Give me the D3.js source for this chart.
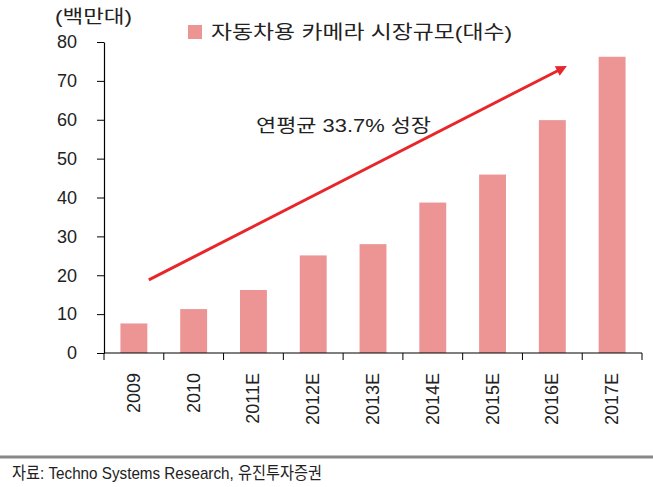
<!DOCTYPE html>
<html><head><meta charset="utf-8">
<script src="https://cdn.jsdelivr.net/npm/d3@7"></script>
<style>
body{margin:0;background:#fff;}
text{font-family:"Liberation Sans","Noto Sans CJK KR",sans-serif;fill:#222;}
</style></head>
<body><svg id="c" width="653" height="487"></svg>
<script>
const categories = ["2009","2010","2011E","2012E","2013E","2014E","2015E","2016E","2017E"];
const values = [7.6, 11.3, 16.2, 25.1, 28.0, 38.7, 45.9, 59.9, 76.2];
const yTicks = [0,10,20,30,40,50,60,70,80];
const seriesName = "자동차용 카메라 시장규모(대수)";
const unitLabel = "(백만대)";
const annotation = "연평균 33.7% 성장";
const source = "자료: Techno Systems Research, 유진투자증권";
const arrowFrom = {cat:"2009", value:18.8, shift:0.25};
const arrowTo = {cat:"2016E", value:72.8, shift:0.115};

const svg = d3.select("#c");
const barColor = "#EC9594";
const arrowColor = "#E8262A";
const x = d3.scaleBand().domain(categories).range([104,642]).paddingInner(0.55).paddingOuter(0.275);
const y = d3.scaleLinear().domain([0,80]).range([353,42]);
const step = x.step();
const cx = c => x(c) + x.bandwidth()/2;

// bars
svg.append("g").selectAll("rect").data(values).join("rect")
  .attr("x",(d,i)=>x(categories[i])).attr("width",x.bandwidth())
  .attr("y",d=>y(d)).attr("height",d=>y(0)-y(d)).attr("fill",barColor);

// y axis
const ya = svg.append("g").attr("transform","translate(104,0)")
  .call(d3.axisLeft(y).tickValues(yTicks).tickSize(7).tickPadding(20).tickSizeOuter(0));
ya.select(".domain").attr("stroke","#000").attr("stroke-width",1.2);
ya.selectAll(".tick line").attr("stroke","#000");
ya.selectAll("text").attr("font-size",18).attr("fill","#333").style("font-family","Liberation Sans");

// x axis
const xa = svg.append("g").attr("transform",`translate(0,${y(0)})`);
xa.append("line").attr("x1",x.range()[0]).attr("x2",x.range()[1]).attr("stroke","#000").attr("stroke-width",1.2);
const bounds = categories.map(c=>x(c)-step*x.paddingInner()/2).concat([x.range()[1]]);
xa.selectAll(".tk").data(bounds).join("line").attr("class","tk")
  .attr("x1",d=>d).attr("x2",d=>d).attr("y1",0).attr("y2",7).attr("stroke","#000");
xa.selectAll(".lb").data(categories).join("text").attr("class","lb")
  .attr("transform",d=>`translate(${cx(d)},20) rotate(-90)`)
  .attr("text-anchor","end").attr("dominant-baseline","central")
  .attr("font-size",18).attr("fill","#333").text(d=>d);

// unit label
svg.append("text").attr("x",55).attr("y",17).attr("dominant-baseline","central")
  .attr("font-size",18).attr("fill","#333")
  .attr("textLength",77).attr("lengthAdjust","spacingAndGlyphs").text(unitLabel);

// legend
svg.append("rect").attr("x",188).attr("y",25).attr("width",14).attr("height",14).attr("fill",barColor);
svg.append("text").attr("x",211).attr("y",32).attr("dominant-baseline","central")
  .attr("font-size",19).attr("fill","#333")
  .attr("textLength",301).attr("lengthAdjust","spacingAndGlyphs").text(seriesName);

// arrow
const defs = svg.append("defs");
defs.append("marker").attr("id","ah").attr("viewBox","0 0 10 10").attr("refX",2).attr("refY",5)
  .attr("markerWidth",4.5).attr("markerHeight",3.6).attr("orient","auto").attr("markerUnits","strokeWidth")
  .append("path").attr("d","M0,0L10,5L0,10Z").attr("fill",arrowColor);
svg.append("line")
  .attr("x1",cx(arrowFrom.cat)+arrowFrom.shift*step).attr("y1",y(arrowFrom.value))
  .attr("x2",cx(arrowTo.cat)+arrowTo.shift*step).attr("y2",y(arrowTo.value))
  .attr("stroke",arrowColor).attr("stroke-width",3).attr("marker-end","url(#ah)");

// annotation
svg.append("text").attr("x",256).attr("y",125.5).attr("dominant-baseline","central")
  .attr("font-size",18).attr("fill","#111")
  .attr("textLength",175).attr("lengthAdjust","spacingAndGlyphs").text(annotation);

// footer
svg.append("line").attr("x1",0).attr("x2",653).attr("y1",457).attr("y2",457).attr("stroke","#888").attr("stroke-width",3);
svg.append("text").attr("x",12).attr("y",473).attr("dominant-baseline","central")
  .attr("font-size",17).attr("fill","#333").attr("textLength",310).attr("lengthAdjust","spacingAndGlyphs").text(source);
</script></body></html>
